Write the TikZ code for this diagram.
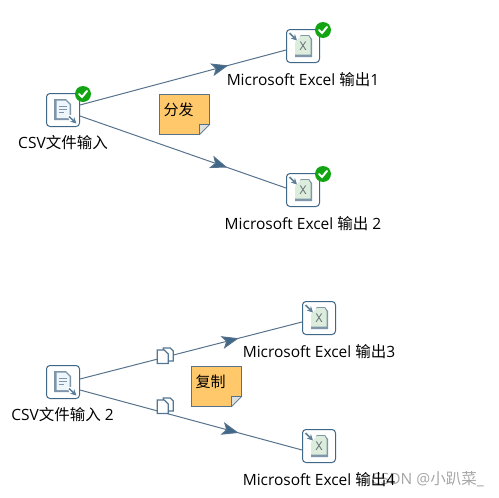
\documentclass[tikz,border=0pt]{standalone}
\usepackage{fontspec}
\setmainfont{Open Sans}
\newfontfamily\cjk{Noto Sans CJK SC}
\usetikzlibrary{arrows.meta,decorations.markings}
\definecolor{linec}{HTML}{56728C}
\definecolor{headc}{HTML}{3F6788}
\definecolor{notec}{HTML}{FFC96B}
\definecolor{okc}{HTML}{12A512}
\definecolor{docedge}{HTML}{7F95AA}
\definecolor{docfill}{HTML}{EEF6FB}
\definecolor{xlsfill}{HTML}{DCEDDC}
\tikzset{
  stepicon/.style={draw=headc,line width=1pt,rounded corners=3.5pt,minimum size=33pt,inner sep=0pt,fill=white},
  lbl/.style={inner sep=0pt,font=\fontsize{15.5}{18}\selectfont,text=black},
  conn/.style={draw=linec,line width=1pt},
  flow/.style={conn,postaction={decorate},decoration={markings,mark=at position #1 with {\arrow{Stealth[length=17pt,width=13pt,inset=4pt,fill=headc]}}}},
  notebox/.style={draw=linec,line width=.9pt,fill=notec},
  okbadge/.style={circle,fill=okc,minimum size=16pt,inner sep=0pt}
}
\newcommand{\okmark}[1]{\node[okbadge] (#1b) at (#1.north east) [xshift=3pt,yshift=-1pt] {};
  \draw[white,line width=2pt,line cap=round] ([shift={(-4,0)}]#1b.center) -- ([shift={(-1,3)}]#1b.center) -- ([shift={(4,-3)}]#1b.center);}
\newcommand{\csvicon}[1]{\begin{scope}[shift={(#1.center)}]
  \fill[docedge] (-9,-11) -- (3,-11) -- (8,-6) -- (8,10) -- (-9,10) -- cycle;
  \fill[docfill] (-6.5,-9.5) -- (2.5,-9.5) -- (6.5,-5.5) -- (6.5,8) -- (-6.5,8) -- cycle;
  \draw[docedge,line width=.9pt] (-4.5,-4)--(4,-4) (-4.5,-1)--(4,-1) (-4.5,2)--(1,2);
  \fill[white] (4,5) -- (9,5) -- (15,11) -- (15,15) -- (9,15) -- cycle;
  \draw[headc!85!white,line width=1.5pt,-{Stealth[length=6pt,width=6pt]}] (6,6.5)--(13.5,13.5);
  \end{scope}}
\newcommand{\xlsicon}[1]{\begin{scope}[shift={(#1.center)}]
  \fill[docedge] (-8,-5) -- (-2,-11) -- (6,-11) -- (9,-7) -- (9,11) -- (-8,11) -- cycle;
  \fill[xlsfill] (-8,-5) -- (-2,-10) -- (5.5,-10) -- (7.5,-6.5) -- (7.5,8.5) -- (-8,8.5) -- cycle;
  \node[font=\fontsize{12}{12}\selectfont,text=docedge!70!black,inner sep=0pt] at (0,0) {X};
  \fill[white] (-15,-15) -- (-8,-15) -- (-3,-9) -- (-9,-3) -- (-15,-8) -- cycle;
  \draw[headc!85!white,line width=1.5pt,-{Stealth[length=6pt,width=6pt]}] (-13.5,-13)--(-6,-5.5);
  \end{scope}}
\newcommand{\copyicon}[1]{\begin{scope}[shift={(#1)}]
  \draw[headc!90!white,line width=1.3pt,fill=white] (-2,-8) -- (5,-8) -- (8,-5) -- (8,5) -- (-2,5) -- cycle;
  \draw[headc!90!white,line width=1.3pt,fill=white] (-8,-6) -- (-1,-6) -- (3,-2) -- (3,7.5) -- (-8,7.5) -- cycle;
  \end{scope}}
\newcommand{\notepic}[3]{\begin{scope}[shift={(#1)}]
  \path[notebox,draw] (0,0) -- (50,0) -- (50,30) -- (40,40) -- (0,40) -- cycle;
  \path[draw=linec,line width=.7pt,fill=gray!25] (50,30) -- (40,30) -- (40,40) -- cycle;
  \node[inner sep=0pt,font=\cjk\fontsize{15}{17}\selectfont,text=black,anchor=center] (#3) at (19,15) {#2};
  \end{scope}}
\begin{document}
\begin{tikzpicture}[x=1pt,y=-1pt]
\useasboundingbox (0,0) rectangle (499,498);
% watermark
\node[inner sep=0pt,anchor=east,text=gray!70,font=\fontsize{15.5}{18}\selectfont] (wm) at (484,479) {CSDN @{\cjk 小趴菜}\_};
% steps
\node[stepicon] (c1) at (63,110) {};
\node[stepicon] (e1) at (303,46) {};
\node[stepicon] (e2) at (303,190) {};
\node[stepicon] (c2) at (63,382) {};
\node[stepicon] (e3) at (319,318) {};
\node[stepicon] (e4) at (319,446) {};
% connectors
\coordinate (c1a) at (80,105); \coordinate (c1c) at (80,116);
\coordinate (c2a) at (80,379); \coordinate (c2c) at (80,390);
\coordinate (e1i) at (286,50); \coordinate (e2i) at (286,188);
\coordinate (e3i) at (302,322); \coordinate (e4i) at (302,450);
\path[flow=0.72] (c1a) -- (e1i);
\path[flow=0.715] (c1c) -- (e2i);
\path[flow=0.715] (c2a) -- (e3i);
\path[flow=0.715] (c2c) -- (e4i);
\coordinate (k1) at (165.3,356); \coordinate (k2) at (165.3,406);
\copyicon{k1}\copyicon{k2}
% icons
\csvicon{c1}\csvicon{c2}\xlsicon{e1}\xlsicon{e2}\xlsicon{e3}\xlsicon{e4}
\okmark{c1}\okmark{e1}\okmark{e2}
% notes
\notepic{159.5,94.5}{分发}{n1}
\notepic{191.5,366.5}{复制}{n2}
% labels
\node[lbl] (l1) at (63,143) {CSV{\cjk 文件输入}};
\node[lbl] (l2) at (303,80) {Microsoft Excel {\cjk 输出}1};
\node[lbl] (l3) at (303,224) {Microsoft Excel {\cjk 输出} 2};
\node[lbl] (l4) at (62.5,415) {CSV{\cjk 文件输入} 2};
\node[lbl] (l5) at (319,352) {Microsoft Excel {\cjk 输出}3};
\node[lbl] (l6) at (319,480) {Microsoft Excel {\cjk 输出}4};
\end{tikzpicture}
\end{document}
